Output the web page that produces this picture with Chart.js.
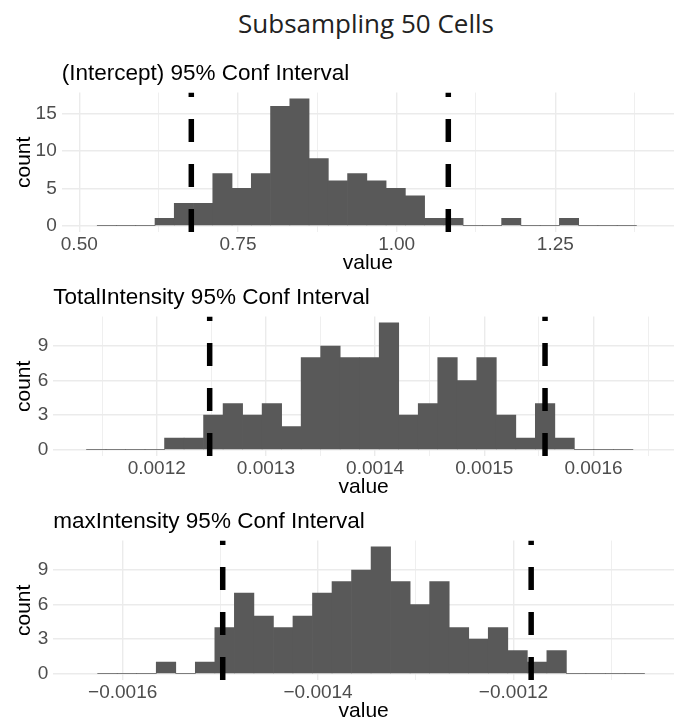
<!DOCTYPE html>
<html>
<head>
<meta charset="utf-8">
<script src="https://cdn.jsdelivr.net/npm/chart.js@4.4.1/dist/chart.umd.min.js"></script>
<style>
  body { margin: 0; background: #fff; overflow: hidden; }
  #page { position: relative; width: 686px; height: 725px; }
  #title {
    position: absolute; left: 46px; top: 5px; width: 640px;
    text-align: center; font-family: 'Open Sans'; font-size: 26px; color: #222;
  }
  canvas { position: absolute; left: 0; }
</style>
</head>
<body>
<div id="page">
  <div id="title">Subsampling 50 Cells</div>
  <canvas id="intercept" width="686" height="232" style="top:50px"></canvas>
  <canvas id="total" width="686" height="232" style="top:274px"></canvas>
  <canvas id="max" width="686" height="232" style="top:498px"></canvas>
</div>
<script>
// (Intercept): 28 bins
const interceptStart = 0.5283;
const interceptWidth = 0.03034;
const interceptCounts = [0, 0, 0, 1, 3, 3, 7, 5, 7, 16, 17, 9, 6, 7, 6, 5, 4, 1, 1, 0, 0, 1, 0, 0, 1, 0, 0, 0];
const interceptCI = [0.6765, 1.0814];
const interceptXMajor = [0.5, 0.75, 1.0, 1.25];
const interceptXMinor = [0.625, 0.875, 1.125, 1.375];
const interceptYMajor = [0, 5, 10, 15];
const interceptYMinor = [2.5, 7.5, 12.5, 17.5];

// TotalIntensity
const totalStart = 0.0011357;
const totalWidth = 0.00001787;
const totalCounts = [0, 0, 0, 0, 1, 1, 3, 4, 3, 4, 2, 8, 9, 8, 8, 11, 3, 4, 8, 6, 8, 3, 1, 4, 1, 0, 0, 0];
const totalCI = [0.0012485, 0.0015556];
const totalXMajor = [0.0012, 0.0013, 0.0014, 0.0015, 0.0016];
const totalXMinor = [0.00115, 0.00125, 0.00135, 0.00145, 0.00155, 0.00165];
const countYMajor = [0, 3, 6, 9];
const countYMinor = [1.5, 4.5, 7.5, 10.5];

// maxIntensity
const maxStart = -0.0016256;
const maxWidth = 0.00001999;
const maxCounts = [0, 0, 0, 1, 0, 1, 4, 7, 5, 4, 5, 7, 8, 9, 11, 8, 6, 8, 4, 3, 4, 2, 1, 2, 0, 0, 0, 0];
const maxCI = [-0.0014976, -0.0011819];
const maxXMajor = [-0.0016, -0.0014, -0.0012];
const maxXMinor = [-0.0015, -0.0013, -0.0011];

Chart.defaults.font.family = "'Liberation Sans', Arial, sans-serif";

function tickList(major, minor) {
    return major.map(v => ({ value: v }))
        .concat(minor.map(v => ({ value: v, minor: true })))
        .sort((a, b) => a.value - b.value);
}

function gridOpts() {
    return {
        color: '#EBEBEB',
        lineWidth: ctx => (ctx.tick && ctx.tick.minor) ? 0.8 : 1.4,
        drawTicks: false,
    };
}

function histogram(id, cfg) {
    const bars = cfg.counts.map((c, i) => ({ x: cfg.start + (i + 0.5) * cfg.width, y: c }));
    // dashed CI bounds, drawn bottom to top
    const ciSets = cfg.ci.map(v => ({
        type: 'line',
        data: [{ x: v, y: cfg.yRange[0] }, { x: v, y: cfg.yRange[1] }],
        borderColor: '#000',
        borderWidth: 5.5,
        borderDash: [23, 22],
        pointRadius: 0,
        order: 1,
    }));

    return new Chart(document.getElementById(id), {
        type: 'bar',
        data: {
            datasets: [{
                data: bars,
                backgroundColor: '#595959',
                borderWidth: 0,
                barPercentage: 1,
                categoryPercentage: 1,
                order: 2,
            }].concat(ciSets)
        },
        options: {
            responsive: false,
            animation: false,
            events: [],
            layout: { padding: { left: 0, right: 12, top: 0, bottom: 0 } },
            plugins: {
                legend: { display: false },
                tooltip: { enabled: false },
                title: {
                    display: true,
                    text: cfg.title,
                    align: 'start',
                    fullSize: false,
                    color: '#000',
                    font: { size: 22.5, weight: 'normal', lineHeight: 1.2 },
                    padding: { top: 10.6, bottom: 5.0 }
                }
            },
            scales: {
                x: {
                    type: 'linear',
                    min: cfg.xRange[0],
                    max: cfg.xRange[1],
                    offset: false,
                    afterBuildTicks: axis => { axis.ticks = tickList(cfg.xMajor, cfg.xMinor); },
                    afterFit: axis => { axis.height = 50; },
                    grid: Object.assign(gridOpts(), { offset: false }),
                    border: { display: false },
                    ticks: {
                        autoSkip: false,
                        maxRotation: 0,
                        padding: 1,
                        color: '#4D4D4D',
                        font: { size: 19 },
                        callback: (value, index, ticks) => ticks[index].minor ? '' : cfg.xFormat(value)
                    },
                    title: {
                        display: true,
                        text: 'value',
                        color: '#000',
                        font: { size: 21 },
                        padding: { top: 0, bottom: 6.5 }
                    }
                },
                y: {
                    min: cfg.yRange[0],
                    max: cfg.yRange[1],
                    afterBuildTicks: axis => { axis.ticks = tickList(cfg.yMajor, cfg.yMinor); },
                    afterFit: axis => { axis.width = cfg.left; },
                    grid: gridOpts(),
                    border: { display: false },
                    ticks: {
                        padding: 5,
                        color: '#4D4D4D',
                        font: { size: 19 },
                        callback: (value, index, ticks) => ticks[index].minor ? '' : String(value)
                    },
                    title: {
                        display: true,
                        text: 'count',
                        color: '#000',
                        font: { size: 21 },
                        padding: { top: 11.5, bottom: 0 }
                    }
                }
            }
        }
    });
}

const minus = v => (v < 0 ? '\u2212' : '') + Math.abs(v).toFixed(4);

histogram('intercept', {
    title: '(Intercept) 95% Conf Interval',
    start: interceptStart, width: interceptWidth, counts: interceptCounts, ci: interceptCI,
    xMajor: interceptXMajor, xMinor: interceptXMinor,
    yMajor: interceptYMajor, yMinor: interceptYMinor,
    xRange: [0.4723, 1.437], yRange: [-0.85, 17.85],
    left: 61.7,
    xFormat: v => v.toFixed(2)
});

histogram('total', {
    title: 'TotalIntensity 95% Conf Interval',
    start: totalStart, width: totalWidth, counts: totalCounts, ci: totalCI,
    xMajor: totalXMajor, xMinor: totalXMinor,
    yMajor: countYMajor, yMinor: countYMinor,
    xRange: [0.0011053, 0.0016737], yRange: [-0.55, 11.55],
    left: 53.3,
    xFormat: v => v.toFixed(4)
});

histogram('max', {
    title: 'maxIntensity 95% Conf Interval',
    start: maxStart, width: maxWidth, counts: maxCounts, ci: maxCI,
    xMajor: maxXMajor, xMinor: maxXMinor,
    yMajor: countYMajor, yMinor: countYMinor,
    xRange: [-0.0016710, -0.0010357], yRange: [-0.55, 11.55],
    left: 53.3,
    xFormat: minus
});
</script>
</body>
</html>
